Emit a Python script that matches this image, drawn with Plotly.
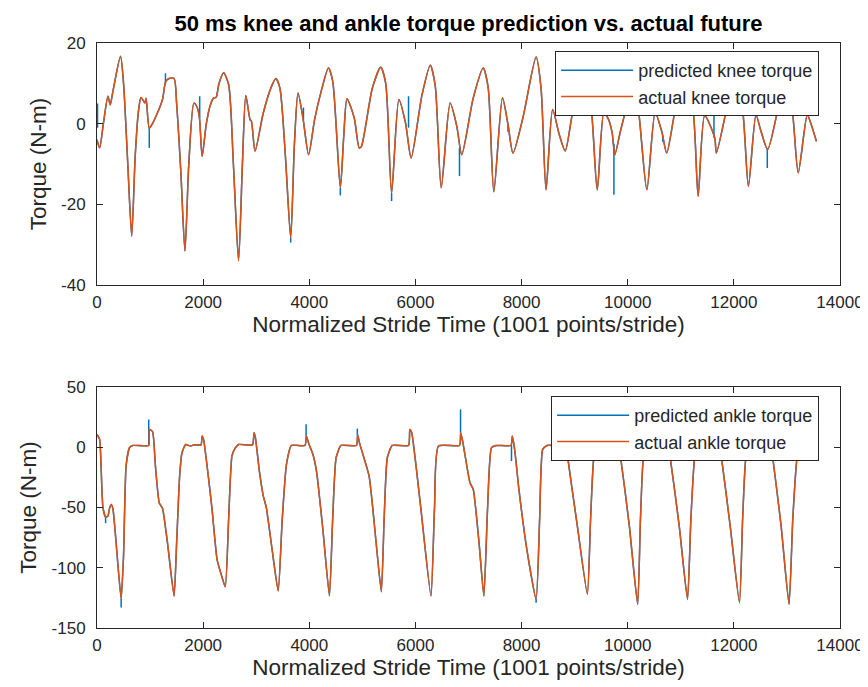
import plotly.graph_objects as go

# ---------------- data ----------------
knee_x = [0, 50, 120, 206, 249, 300, 443, 500, 580, 654, 720, 780, 829, 903, 925, 985, 1040, 1140, 1234,
          1296, 1358, 1452, 1500, 1580, 1657, 1730, 1826, 1888, 1931, 1981, 2060, 2137, 2200, 2243, 2300,
          2386, 2480, 2570, 2667, 2740, 2804, 2884, 2910, 2978, 3134, 3290, 3370, 3445, 3550, 3650, 3720,
          3788, 3881, 3987, 4100, 4224, 4361, 4442, 4585, 4650, 4710, 4847, 4940, 4980, 5190, 5346, 5440,
          5551, 5688, 5813, 5919, 6125, 6280, 6374, 6486, 6654, 6779, 6873, 7090, 7277, 7370, 7477, 7640,
          7744, 7838, 8024, 8274, 8367, 8461, 8585, 8710, 8822, 8960, 9150, 9280, 9426, 9551, 9640, 9707,
          9757, 9860, 9956, 10080, 10205, 10361, 10517, 10641, 10735, 10890, 11060, 11233, 11327, 11450,
          11639, 11670, 11855, 12010, 12167, 12274, 12417, 12511, 12636, 12822, 12960, 13103, 13213, 13383,
          13445, 13556]
knee_actual = [-4, -6, 0, 6.8, 4.7, 8, 16.7, 10, -10, -27.9, -8, 3, 6.5, 5.1, 6.3, -1.1, -0.1, 2.7, 6,
               10.5, 11.2, 11.2, 5, -12, -31.6, -10, 5.1, 4, 1.4, -8.1, 0, 4.7, 6.4, 6.5, 10,
               12.6, 9.7, -10, -34, -10, 7, 1, 0.6, -6.8, 2.7, 9.3, 11.2, 8.9, -8, -28.3, -5,
               7.6, 1.4, -7.7, 1, 8, 13.8, 10.5, -15.9, -3, 6.2, 1.4, -6, -5.7, 8.9, 14, 10,
               -17.2, 6, 0.2, -8.5, 7.2, 14.5, 9.3, -15.9, 5.1, -0.6, -7.7, 6.4, 13.8, 9, -16.9, 6.4,
               -0.2, -7.3, 1.4, 16.5, 8.8, -16.4, 3.5, -2.7, -6.8, 2.6, 12, 8, -16.4, 2.7, 1, -2.3,
               -7.7, -2, 3.1, 12, 3.1, -16.4, 2.7, -1.9, -7.3, 3.1, 12, 3.1, -18, 2,
               -3.5, -7.3, 3.1, 12, 3.1, -15.5, 2.2, -1.9, -6.4, 3.1, 12, 3.1, -12.2, 2.2,
               0.3, -4.4]
# glitches of the predicted knee torque (position, value on the curve, glitch value)
knee_spike_x = [10, 985, 1290, 1935, 3650, 3890, 4585, 5551, 5870, 6830, 7744, 9740, 10660, 11625, 12630]
knee_spike_from = [-1, -1, 10, 1.4, -28.3, 1, -15.9, -17.2, -1, -6, -0.2, -5, -3, -3.5, -6]
knee_spike_to = [5, -6, 12.5, 6.8, -29.5, 4, -17.8, -19.2, 6.8, -13, -2, -17.6, -4.5, 5, -11]

ankle_x = [0, 50, 80, 112, 162, 206, 240, 268, 300, 380, 455, 500, 548, 611, 673, 972, 985, 1047, 1100,
           1172, 1234, 1327, 1452, 1500, 1557, 1600, 1670, 1760, 1830, 1960, 1981, 2010, 2100, 2168, 2262,
           2340, 2417, 2480, 2542, 2600, 2667, 2930, 2959, 2985, 3060, 3134, 3190, 3300, 3414, 3490, 3570,
           3664, 3920, 3944, 3990, 4069, 4140, 4260, 4380, 4440, 4505, 4598, 4890, 4910, 4950, 5127, 5250,
           5358, 5410, 5470, 5564, 5870, 5894, 5930, 6100, 6293, 6360, 6435, 6830, 6853, 6890, 7028, 7090,
           7200, 7290, 7360, 7433, 7520, 7800, 7826, 7870, 7950, 8100, 8274, 8340, 8398, 8480, 8800, 8825,
           8866, 9050, 9240, 9300, 9365, 9440, 9760, 9785, 9863, 10030, 10187, 10240, 10299, 10380, 10700,
           10725, 10797, 10970, 11127, 11190, 11265, 11340, 11670, 11695, 11763, 11930, 12106, 12165, 12230,
           12310, 12640, 12665, 12729, 12890, 13040, 13110, 13196, 13280, 13540]
ankle_actual = [10.6, 6.5, -20, -50, -58, -57, -50, -47.5, -51, -90, -126, -90, -15.6, -0.4, 1.5, 1.5, 14.8, 13, -15,
                -46, -50.7, -79, -123.5, -80, -24, -5, 2.3, 1, 2, 2, 9.3, 6, -25, -51.6, -93,
                -105.5, -115.8, -60, -7.3, -1, 2.3, 2, 12, 8, -20, -40.5, -50, -85, -119.3, -60, -14.3,
                1.5, 1.5, 9.3, 3, -6, -21, -70, -123.5, -60, -8.7, 1.5, 1.5, 10.6, 3, -24, -75,
                -120, -60, -8.7, 1.5, 1.5, 14.8, 12, -50, -123.5, -50, 1, 1.5, 12, 5, -29.5, -35,
                -80, -123.5, -50, -0.4, 1.5, 1.5, 9.3, -2, -35, -85, -126.3, -60, -1.8, 1.5, 1.5, 12,
                -7.3, -65, -122, -60, -7.3, 1.5, 1.5, 12, -7.3, -65, -130.4, -60, -7.3, 1.5, 1.5,
                12, -7.3, -65, -126.3, -60, -7.3, 1.5, 1.5, 12, -7.3, -65, -129, -60, -7.3,
                1.5, 1.5, 12, -7.3, -65, -130.4, -60, -7.3, 1.5, 1.5]
ankle_spike_x = [162, 455, 975, 3940, 4905, 6850, 7810, 8274]
ankle_spike_from = [-58, -126, 1.5, 9, 10, 12, 1.5, -126]
ankle_spike_to = [-63, -133, 23, 19, 15.5, 31.4, -11.5, -129]

x_ticks = [0, 2000, 4000, 6000, 8000, 10000, 12000, 14000]
x_tick_text = ["0", "2000", "4000", "6000", "8000", "10000", "12000", "14000"]
knee_ticks = [-40, -20, 0, 20]
knee_tick_text = ["-40", "-20", "0", "20"]
ankle_ticks = [-150, -100, -50, 0, 50]
ankle_tick_text = ["-150", "-100", "-50", "0", "50"]

BLUE = "#0072BD"
ORANGE = "#D95319"
AXC = "#262626"
FONT = "Liberation Sans, Arial, sans-serif"


def with_spikes(xs, ys, sx, sf, st):
    px, py = list(xs), list(ys)
    for a, b, c in zip(sx, sf, st):
        px += [None, a, a]
        py += [None, b, c]
    return px, py


kpx, kpy = with_spikes(knee_x, knee_actual, knee_spike_x, knee_spike_from, knee_spike_to)
apx, apy = with_spikes(ankle_x, ankle_actual, ankle_spike_x, ankle_spike_from, ankle_spike_to)

fig = go.Figure()
lw = 1.5
fig.add_trace(go.Scatter(x=kpx, y=kpy, mode="lines", name="predicted knee torque",
                         line=dict(color=BLUE, width=lw, shape="spline", smoothing=0.7),
                         xaxis="x", yaxis="y", legend="legend"))
fig.add_trace(go.Scatter(x=knee_x, y=knee_actual, mode="lines", name="actual knee torque",
                         line=dict(color=ORANGE, width=lw, shape="spline", smoothing=0.7),
                         xaxis="x", yaxis="y", legend="legend"))
fig.add_trace(go.Scatter(x=apx, y=apy, mode="lines", name="predicted ankle torque",
                         line=dict(color=BLUE, width=lw, shape="spline", smoothing=0.5),
                         xaxis="x2", yaxis="y2", legend="legend2"))
fig.add_trace(go.Scatter(x=ankle_x, y=ankle_actual, mode="lines", name="actual ankle torque",
                         line=dict(color=ORANGE, width=lw, shape="spline", smoothing=0.5),
                         xaxis="x2", yaxis="y2", legend="legend2"))

W, H = 868, 687
ml, mr, mt, mb = 89, 31, 35, 67
ph = H - mt - mb


def yfrac(py):
    return (H - mb - py) / ph


axis_common = dict(showline=True, linecolor=AXC, linewidth=1, mirror="ticks", ticks="inside",
                   ticklen=6, tickcolor=AXC, showgrid=False, zeroline=False,
                   tickfont=dict(family=FONT, size=17, color=AXC))
xaxis_extra = dict(ticklabelstandoff=2)
yaxis_extra = dict(ticklabelstandoff=7)
title_font = dict(family=FONT, size=22.5, color=AXC)
legend_common = dict(x=(816 - ml) / (W - ml - mr), xanchor="right", yanchor="top",
                     bgcolor="white", bordercolor=AXC, borderwidth=1, itemwidth=72,
                     font=dict(family=FONT, size=18, color=AXC), tracegroupgap=0)

fig.update_layout(
    width=W, height=H, margin=dict(l=ml, r=mr, t=mt, b=mb),
    paper_bgcolor="white", plot_bgcolor="white", showlegend=True,
    title=dict(text="<b>50 ms knee and ankle torque prediction vs. actual future</b>",
               x=0.5, xref="paper", xanchor="center", y=1 - 15 / H, yref="container", yanchor="middle",
               font=dict(family=FONT, size=22, color="black")),
    xaxis=dict(domain=[0, 1], range=[0, 14000], tickvals=x_ticks, ticktext=x_tick_text, anchor="y",
               title=dict(text="Normalized Stride Time (1001 points/stride)", font=title_font, standoff=4),
               **axis_common, **xaxis_extra),
    yaxis=dict(domain=[yfrac(277), 1], range=[-40, 20], tickvals=knee_ticks, ticktext=knee_tick_text,
               anchor="x", title=dict(text="Torque (N-m)", font=title_font, standoff=8),
               **axis_common, **yaxis_extra),
    xaxis2=dict(domain=[0, 1], range=[0, 14000], tickvals=x_ticks, ticktext=x_tick_text, anchor="y2",
                title=dict(text="Normalized Stride Time (1001 points/stride)", font=title_font, standoff=4),
                **axis_common, **xaxis_extra),
    yaxis2=dict(domain=[0, yfrac(379)], range=[-150, 50], tickvals=ankle_ticks, ticktext=ankle_tick_text,
                anchor="x2", title=dict(text="Torque (N-m)", font=title_font, standoff=8),
                **axis_common, **yaxis_extra),
    legend=dict(y=yfrac(43), **legend_common),
    legend2=dict(y=yfrac(388), **legend_common),
)

fig.write_html("out.html")
